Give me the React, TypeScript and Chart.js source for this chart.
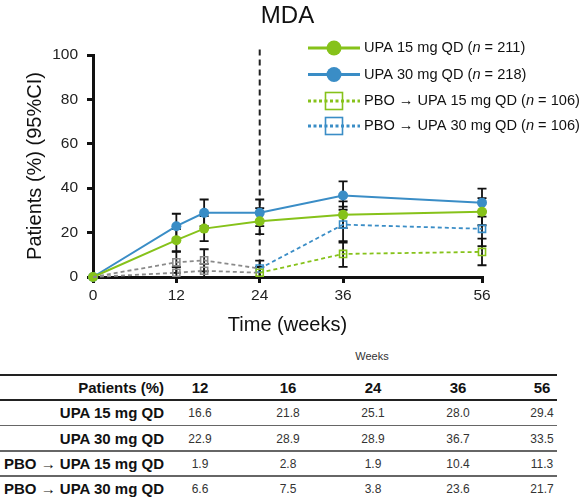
import React, { useEffect, useRef } from "react";
import { Chart, registerables } from "chart.js";

Chart.register(...registerables);

// ---------- data ----------
const chartTitle = "MDA";
const yTitle = "Patients (%) (95%CI)";
const xTitle = "Time (weeks)";
const xTicks = [0, 12, 24, 36, 56];
const switchWeek = 24;

const weeks = [0, 12, 16, 24, 36, 56];
const upa15 = [0, 16.6, 21.8, 25.1, 28.0, 29.4];
const upa30 = [0, 22.9, 28.9, 28.9, 36.7, 33.5];

const pboWeeks = [0, 12, 16, 24];
const pbo15Placebo = [0, 1.9, 2.8, 1.9];
const pbo30Placebo = [0, 6.6, 7.5, 3.8];

const switchWeeks = [24, 36, 56];
const pbo15Switch = [1.9, 10.4, 11.3];
const pbo30Switch = [3.8, 23.6, 21.7];

// 95% CI bounds
const ciWeeks = [12, 16, 24, 36, 56];
const upa15Lo = [11.6, 16.2, 19.3, 22.0, 23.3];
const upa15Hi = [21.6, 27.4, 31.0, 34.1, 35.5];
const upa30Lo = [17.3, 22.9, 22.9, 30.3, 27.2];
const upa30Hi = [28.5, 34.9, 34.9, 43.1, 39.8];
const pbo15Lo = [0, 0, 0, 4.6, 5.3];
const pbo15Hi = [4.5, 5.9, 4.5, 16.2, 17.3];
const pbo30Lo = [1.9, 2.5, 0.2, 15.5, 13.9];
const pbo30Hi = [11.3, 12.5, 7.4, 31.7, 29.5];

const legendLabels = [
  ["UPA 15 mg QD (", "n", " = 211)"],
  ["UPA 30 mg QD (", "n", " = 218)"],
  ["PBO \u2192 UPA 15 mg QD (", "n", " = 106)"],
  ["PBO \u2192 UPA 30 mg QD (", "n", " = 106)"],
];

// table
const tableSuper = "Weeks";
const tableHeadLabel = "Patients (%)";
const tableWeeks = ["12", "16", "24", "36", "56"];
const tableRowLabels = [
  "UPA 15 mg QD",
  "UPA 30 mg QD",
  "PBO \u2192 UPA 15 mg QD",
  "PBO \u2192 UPA 30 mg QD",
];
const tableRow1 = ["16.6", "21.8", "25.1", "28.0", "29.4"];
const tableRow2 = ["22.9", "28.9", "28.9", "36.7", "33.5"];
const tableRow3 = ["1.9", "2.8", "1.9", "10.4", "11.3"];
const tableRow4 = ["6.6", "7.5", "3.8", "23.6", "21.7"];

// ---------- styles ----------
const GREEN = "#86c21a";
const BLUE = "#3a8dc6";
const GREY = "#8a8a8a";
const FONT = "'Liberation Sans', Arial, sans-serif";

const errorSets = [
  { lo: upa15Lo, hi: upa15Hi },
  { lo: upa30Lo, hi: upa30Hi },
  { lo: pbo15Lo, hi: pbo15Hi },
  { lo: pbo30Lo, hi: pbo30Hi },
];

const legendStyles = [
  { color: GREEN, dotted: false, marker: "circle" },
  { color: BLUE, dotted: false, marker: "circle" },
  { color: GREEN, dotted: true, marker: "square" },
  { color: BLUE, dotted: true, marker: "square" },
];

const pts = (xs: number[], ys: number[]) => xs.map((x, i) => ({ x, y: ys[i] }));

const decorPlugin = {
  id: "decor",
  beforeDatasetsDraw(chart: any) {
    const { ctx, scales } = chart;
    const x = scales.x;
    const y = scales.y;
    ctx.save();
    // vertical dashed line at switch week
    const vx = x.getPixelForValue(switchWeek);
    ctx.strokeStyle = "#222";
    ctx.lineWidth = 2;
    ctx.setLineDash([6, 4]);
    ctx.beginPath();
    ctx.moveTo(vx, y.getPixelForValue(102.5));
    ctx.lineTo(vx, y.getPixelForValue(0));
    ctx.stroke();
    ctx.setLineDash([]);
    // error bars
    ctx.strokeStyle = "#111";
    ctx.lineWidth = 1.8;
    for (const s of errorSets) {
      ciWeeks.forEach((w, i) => {
        const px = x.getPixelForValue(w);
        const t = y.getPixelForValue(s.hi[i]);
        const b = y.getPixelForValue(s.lo[i]);
        ctx.beginPath();
        ctx.moveTo(px, t);
        ctx.lineTo(px, b);
        ctx.moveTo(px - 4.5, t);
        ctx.lineTo(px + 4.5, t);
        ctx.moveTo(px - 4.5, b);
        ctx.lineTo(px + 4.5, b);
        ctx.stroke();
      });
    }
    ctx.restore();
  },
  afterDraw(chart: any) {
    const { ctx, chartArea } = chart;
    ctx.save();
    // title
    ctx.fillStyle = "#111";
    ctx.font = `24px ${FONT}`;
    ctx.textAlign = "center";
    ctx.textBaseline = "middle";
    ctx.fillText(chartTitle, (chartArea.left + chartArea.right) / 2, 16);
    // legend
    const lx0 = 308;
    const lx1 = 360;
    const mx = 334;
    const tx = 364;
    const rowY = [48, 74.5, 101, 126];
    legendLabels.forEach((parts, i) => {
      const st = legendStyles[i];
      const yy = rowY[i];
      ctx.strokeStyle = st.color;
      ctx.lineWidth = 3.2;
      ctx.setLineDash(st.dotted ? [3, 2.5] : []);
      ctx.beginPath();
      ctx.moveTo(lx0, yy);
      ctx.lineTo(lx1, yy);
      ctx.stroke();
      ctx.setLineDash([]);
      if (st.marker === "circle") {
        ctx.fillStyle = st.color;
        ctx.beginPath();
        ctx.arc(mx, yy, 7.5, 0, Math.PI * 2);
        ctx.fill();
      } else {
        ctx.lineWidth = 1.6;
        ctx.strokeRect(mx - 8.5, yy - 8.5, 17, 17);
      }
      ctx.fillStyle = "#111";
      ctx.textAlign = "left";
      ctx.textBaseline = "middle";
      let cx = tx;
      parts.forEach((p, k) => {
        ctx.font = `${k === 1 ? "italic " : ""}14.6px ${FONT}`;
        ctx.fillText(p, cx, yy);
        cx += ctx.measureText(p).width;
      });
    });
    ctx.restore();
  },
};

function ChartCanvas() {
  const ref = useRef<HTMLCanvasElement | null>(null);
  useEffect(() => {
    document.body.style.margin = "0";
    const solid = (label: string, data: any, color: string) => ({
      label,
      data,
      clip: false,
      borderColor: color,
      backgroundColor: color,
      borderWidth: 2,
      pointRadius: 5,
      pointStyle: "circle",
      pointBorderWidth: 0,
      pointBackgroundColor: color,
    });
    const dashed = (label: string, data: any, color: string, radii: number[] | number) => ({
      label,
      data,
      clip: false,
      borderColor: color,
      backgroundColor: "rgba(0,0,0,0)",
      borderWidth: 1.8,
      borderDash: [4, 3],
      pointRadius: radii,
      pointStyle: "rect",
      pointBorderWidth: 1.6,
      pointBorderColor: color,
      pointBackgroundColor: "rgba(0,0,0,0)",
    });
    const chart = new Chart(ref.current as HTMLCanvasElement, {
      type: "line",
      data: {
        datasets: [
          dashed("PBO15 placebo", pts(pboWeeks, pbo15Placebo), GREY, [0, 5, 5, 0]),
          dashed("PBO30 placebo", pts(pboWeeks, pbo30Placebo), GREY, [0, 5, 5, 0]),
          dashed("PBO15 switch", pts(switchWeeks, pbo15Switch), GREEN, 5),
          dashed("PBO30 switch", pts(switchWeeks, pbo30Switch), BLUE, 5),
          solid("UPA 15", pts(weeks, upa15), GREEN),
          solid("UPA 30", pts(weeks, upa30), BLUE),
        ] as any,
      },
      options: {
        animation: false,
        responsive: false,
        maintainAspectRatio: false,
        layout: { padding: { left: 23, right: 100, top: 55, bottom: 3 } },
        plugins: { legend: { display: false }, tooltip: { enabled: false }, title: { display: false } },
        scales: {
          x: {
            type: "linear",
            min: 0,
            max: 56,
            afterBuildTicks: (s: any) => {
              s.ticks = xTicks.map((v) => ({ value: v }));
            },
            afterFit: (s: any) => {
              s.height = 60;
            },
            grid: { display: true, drawOnChartArea: false, drawTicks: true, tickLength: 6, color: "#111", lineWidth: 3 },
            border: { display: true, color: "#111", width: 3 },
            ticks: { color: "#222", font: { family: FONT, size: 15.5 }, padding: 3, maxRotation: 0, autoSkip: false },
            title: { display: true, text: xTitle, color: "#111", font: { family: FONT, size: 20 }, padding: 0 },
          },
          y: {
            min: 0,
            max: 100,
            afterFit: (s: any) => {
              s.width = 70;
            },
            grid: { display: true, drawOnChartArea: false, drawTicks: true, tickLength: 6, color: "#111", lineWidth: 3 },
            border: { display: true, color: "#111", width: 3 },
            ticks: { stepSize: 20, color: "#222", font: { family: FONT, size: 15.5 }, padding: 9 },
            title: { display: true, text: yTitle, color: "#111", font: { family: FONT, size: 20 }, padding: 0 },
          },
        },
      } as any,
      plugins: [decorPlugin],
    });
    return () => chart.destroy();
  }, []);
  return <canvas ref={ref} width={582} height={340} style={{ position: "absolute", left: 0, top: 0, width: 582, height: 340 }} />;
}

const colX = [200, 288, 373, 458, 542];
const rowCenters = [413, 438.5, 463.5, 489];
const rowLines = [425.5, 451, 476];
const tableRows = [tableRow1, tableRow2, tableRow3, tableRow4];

function Txt(props: { x: number; y: number; align: "center" | "right"; bold?: boolean; size: number; color?: string; children: any }) {
  const w = 200;
  const left = props.align === "center" ? props.x - w / 2 : props.x - w;
  return (
    <div
      style={{
        position: "absolute",
        left,
        top: props.y - 10,
        width: w,
        height: 20,
        lineHeight: "20px",
        textAlign: props.align,
        fontFamily: FONT,
        fontSize: props.size,
        fontWeight: props.bold ? "bold" : "normal",
        color: props.color || "#111",
        whiteSpace: "nowrap",
      }}
    >
      {props.children}
    </div>
  );
}

function HLine(props: { y: number; h: number; color: string }) {
  return <div style={{ position: "absolute", left: 0, top: props.y - props.h / 2, width: 557, height: props.h, background: props.color }} />;
}

export default function App() {
  return (
    <div style={{ position: "relative", width: 582, height: 499, overflow: "hidden", background: "#fff" }}>
      <ChartCanvas />
      <Txt x={372} y={356} align="center" size={11} color="#333">{tableSuper}</Txt>
      <HLine y={375} h={2} color="#222" />
      <Txt x={164} y={388} align="right" bold size={15}>{tableHeadLabel}</Txt>
      {tableWeeks.map((w, i) => (
        <Txt key={"h" + i} x={colX[i]} y={388} align="center" bold size={15}>{w}</Txt>
      ))}
      <HLine y={400} h={2} color="#222" />
      {tableRowLabels.map((lab, r) => (
        <React.Fragment key={"r" + r}>
          <Txt x={164} y={rowCenters[r]} align="right" bold size={15}>{lab}</Txt>
          {tableRows[r].map((v, i) => (
            <Txt key={"c" + i} x={colX[i]} y={rowCenters[r]} align="center" size={12} color="#333">{v}</Txt>
          ))}
        </React.Fragment>
      ))}
      {rowLines.map((y, i) => (
        <HLine key={"l" + i} y={y} h={1.5} color="#666" />
      ))}
    </div>
  );
}
